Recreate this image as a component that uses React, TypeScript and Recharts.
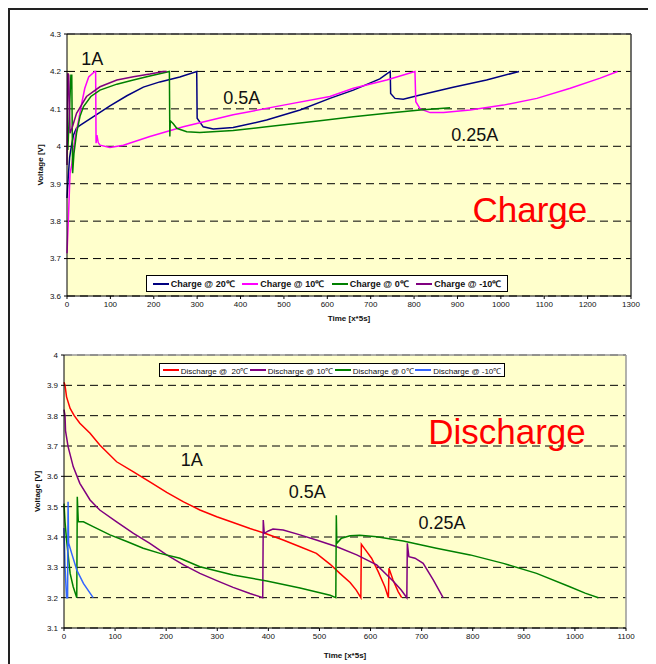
import { LineChart, Line, XAxis, YAxis, CartesianGrid, ReferenceLine, ReferenceDot, Legend } from 'recharts';

// [time (x*5s), voltage]
const charge20 = [[0, 3.862], [3, 3.92], [6, 3.97], [10, 4.0], [15, 4.03], [22, 4.049], [30, 4.056], [61, 4.079], [99, 4.108], [138, 4.135], [176, 4.158], [214, 4.172], [260, 4.185], [299, 4.2], [300, 4.075], [314, 4.052], [337, 4.046], [383, 4.05], [460, 4.07], [537, 4.097], [606, 4.128], [660, 4.15], [721, 4.18], [745, 4.2], [746, 4.141], [756, 4.128], [775, 4.126], [814, 4.137], [890, 4.158], [967, 4.177], [1042, 4.2]];
const charge10 = [[0, 3.714], [3, 3.8], [7, 3.928], [11, 3.95], [14, 3.977], [18, 4.02], [26, 4.066], [34, 4.115], [41, 4.155], [50, 4.185], [64, 4.2], [66, 4.2], [67, 4.008], [69, 4.03], [72, 4.01], [76, 4.003], [99, 3.997], [130, 4.003], [191, 4.026], [268, 4.052], [383, 4.084], [499, 4.11], [606, 4.133], [660, 4.155], [737, 4.177], [802, 4.2], [804, 4.119], [814, 4.1], [837, 4.09], [868, 4.09], [929, 4.097], [1006, 4.11], [1083, 4.128], [1160, 4.155], [1229, 4.182], [1269, 4.2]];
const charge0 = [[2, 3.99], [9, 4.19], [11, 4.19], [13, 3.928], [16, 3.98], [22, 4.035], [30, 4.08], [38, 4.106], [55, 4.133], [76, 4.15], [115, 4.166], [153, 4.177], [191, 4.188], [236, 4.2], [237, 4.026], [238, 4.068], [245, 4.06], [253, 4.048], [276, 4.039], [306, 4.037], [383, 4.042], [460, 4.052], [583, 4.068], [660, 4.079], [737, 4.088], [814, 4.097], [883, 4.103]];
const chargeM10 = [[0, 3.95], [2, 4.195], [4, 4.19], [7, 4.035], [12, 4.05], [22, 4.088], [45, 4.133], [76, 4.159], [115, 4.177], [153, 4.186], [191, 4.193], [222, 4.2], [230, 4.2]];

const discharge20 = [[0, 3.91], [2, 3.9], [5, 3.862], [12, 3.824], [20, 3.8], [31, 3.775], [51, 3.742], [70, 3.703], [103, 3.648], [136, 3.615], [168, 3.582], [201, 3.547], [234, 3.516], [266, 3.489], [299, 3.467], [331, 3.448], [364, 3.428], [397, 3.41], [429, 3.39], [462, 3.368], [494, 3.346], [521, 3.31], [540, 3.28], [560, 3.25], [572, 3.225], [581, 3.2], [582, 3.376], [589, 3.36], [602, 3.33], [615, 3.286], [628, 3.236], [635, 3.2], [636, 3.297], [644, 3.258], [654, 3.22], [661, 3.2]];
const discharge10 = [[0, 3.82], [2, 3.8], [3, 3.75], [8, 3.698], [18, 3.632], [31, 3.577], [51, 3.522], [70, 3.489], [103, 3.45], [136, 3.412], [168, 3.379], [201, 3.341], [234, 3.308], [266, 3.28], [299, 3.256], [331, 3.234], [364, 3.214], [389, 3.2], [390, 3.456], [392, 3.412], [400, 3.42], [409, 3.426], [429, 3.423], [462, 3.407], [494, 3.39], [534, 3.368], [573, 3.341], [612, 3.308], [645, 3.253], [660, 3.225], [671, 3.2], [672, 3.379], [675, 3.335], [687, 3.33], [703, 3.313], [723, 3.258], [742, 3.2]];
const discharge0 = [[0, 3.51], [2, 3.45], [5, 3.39], [12, 3.28], [18, 3.236], [25, 3.2], [26, 3.533], [28, 3.45], [38, 3.45], [57, 3.434], [90, 3.407], [123, 3.385], [155, 3.363], [188, 3.346], [227, 3.33], [266, 3.302], [331, 3.275], [397, 3.255], [462, 3.232], [521, 3.208], [532, 3.2], [533, 3.472], [534, 3.379], [543, 3.396], [560, 3.404], [579, 3.406], [612, 3.401], [664, 3.387], [729, 3.363], [795, 3.341], [860, 3.313], [925, 3.28], [990, 3.236], [1020, 3.215], [1046, 3.2]];
const dischargeM10 = [[0, 3.43], [2, 3.3], [5, 3.2], [7, 3.2], [8, 3.516], [9, 3.38], [15, 3.346], [25, 3.291], [38, 3.247], [57, 3.2]];

const chargeTicksX = [0, 100, 200, 300, 400, 500, 600, 700, 800, 900, 1000, 1100, 1200, 1300];
const chargeTicksY = [3.6, 3.7, 3.8, 3.9, 4, 4.1, 4.2, 4.3];
const dischargeTicksX = [0, 100, 200, 300, 400, 500, 600, 700, 800, 900, 1000, 1100];
const dischargeTicksY = [3.1, 3.2, 3.3, 3.4, 3.5, 3.6, 3.7, 3.8, 3.9, 4];

const chargeNames = ['Charge @ 20℃', 'Charge @ 10℃', 'Charge @ 0℃', 'Charge @ -10℃'];
const dischargeNames = ['Discharge @  20℃', 'Discharge @ 10℃', 'Discharge @ 0℃', 'Discharge @ -10℃'];

// [text, time, voltage]
const chargeNotes = [['1A', 58, 4.233], ['0.5A', 403, 4.129], ['0.25A', 940, 4.03]];
const dischargeNotes = [['1A', 250, 3.654], ['0.5A', 476, 3.548], ['0.25A', 740, 3.449]];

const FONT = '"Liberation Sans", Arial, sans-serif';
const chargeColors = ['#000080', '#FF00FF', '#008000', '#800080'];
const dischargeColors = ['#FF0000', '#800080', '#008000', '#3366FF'];

const toRows = (pts: number[][]) => pts.map(([t, v]) => ({ t, v }));

const tickStyle = { fontSize: 8, fill: '#111', fontFamily: FONT };

const LegendBox = ({ names, colors, bold, width, height, fontSize, lineW }: any) => (
  <div
    style={{
      width,
      height,
      boxSizing: 'border-box',
      border: '1px solid #000',
      background: '#fff',
      display: 'flex',
      alignItems: 'center',
      justifyContent: 'space-around',
      padding: '0 2px',
      fontFamily: FONT,
      fontSize,
      fontWeight: bold ? 'bold' : 'normal',
      color: '#111',
      whiteSpace: 'pre',
    }}
  >
    {names.map((n: string, i: number) => (
      <div key={n} style={{ display: 'flex', alignItems: 'center' }}>
        <span style={{ display: 'inline-block', width: lineW, height: 2, background: colors[i], marginRight: 2 }} />
        <span>{n}</span>
      </div>
    ))}
  </div>
);

const noteLabel = (text: string, size: number, color: string) => ({
  value: text,
  position: 'center' as const,
  fontSize: size,
  fill: color,
  fontFamily: FONT,
});

export default function App() {
  const chargeSeries = [charge20, charge10, charge0, chargeM10];
  const dischargeSeries = [discharge20, discharge10, discharge0, dischargeM10];
  return (
    <div style={{ position: 'relative', width: 648, height: 656 }}>
      <div
        style={{
          position: 'absolute',
          left: 0,
          top: 0,
          width: 648,
          height: 656,
          boxSizing: 'border-box',
          borderLeft: '2px solid #222',
          borderTop: '2px solid #222',
        }}
      />
      <div style={{ position: 'absolute', left: 0, top: 0 }}>
        <LineChart width={640} height={320} margin={{ top: 26, right: 17, bottom: 2, left: 19 }}>
          <CartesianGrid vertical={false} stroke="#000" strokeDasharray="8 5" fill="#FFFFCC" fillOpacity={1} />
          <XAxis
            dataKey="t"
            type="number"
            domain={[0, 1300]}
            ticks={chargeTicksX}
            allowDuplicatedCategory={false}
            height={30}
            tick={tickStyle}
            tickSize={3}
            tickMargin={2}
            stroke="#000"
            label={{ value: 'Time [x*5s]', position: 'insideBottom', offset: 5, fontSize: 8, fontWeight: 'bold', fill: '#111', fontFamily: FONT }}
          />
          <YAxis
            dataKey="v"
            type="number"
            domain={[3.6, 4.3]}
            ticks={chargeTicksY}
            width={40}
            tick={tickStyle}
            tickSize={3}
            tickMargin={3}
            stroke="#000"
            label={{ value: 'Voltage [V]', angle: -90, position: 'insideLeft', offset: 13, fontSize: 8, fontWeight: 'bold', fill: '#111', fontFamily: FONT, style: { textAnchor: 'middle' } }}
          />
          <ReferenceLine y={4.3} stroke="#404040" strokeWidth={1.5} />
          <ReferenceLine x={1300} stroke="#404040" strokeWidth={1.5} />
          {chargeSeries.map((s, i) => (
            <Line
              key={chargeNames[i]}
              data={toRows(s)}
              dataKey="v"
              name={chargeNames[i]}
              stroke={chargeColors[i]}
              strokeWidth={1.5}
              dot={false}
              type="linear"
              isAnimationActive={false}
            />
          ))}
          {chargeNotes.map(([text, t, v]) => (
            <ReferenceDot key={text as string} x={t as number} y={v as number} r={0} stroke="none" fill="none" label={noteLabel(text as string, 18, '#111')} />
          ))}
          <ReferenceDot x={1067} y={3.832} r={0} stroke="none" fill="none" label={noteLabel('Charge', 35, '#FF0000')} />
          <Legend
            layout="vertical"
            align="center"
            verticalAlign="middle"
            wrapperStyle={{ position: 'absolute', left: 138, top: 267, width: 362 }}
            content={() => (
              <LegendBox names={chargeNames} colors={chargeColors} bold width={362} height={17} fontSize={9} lineW={16} />
            )}
          />
        </LineChart>
      </div>
      <div style={{ position: 'absolute', left: 0, top: 322 }}>
        <LineChart width={640} height={334} margin={{ top: 25, right: 22, bottom: 2, left: 16 }}>
          <CartesianGrid vertical={false} stroke="#000" strokeDasharray="8 5" fill="#FFFFCC" fillOpacity={1} />
          <XAxis
            dataKey="t"
            type="number"
            domain={[0, 1100]}
            ticks={dischargeTicksX}
            allowDuplicatedCategory={false}
            height={34}
            tick={tickStyle}
            tickSize={3}
            tickMargin={2}
            stroke="#000"
            label={{ value: 'Time [x*5s]', position: 'insideBottom', offset: 4, fontSize: 8, fontWeight: 'bold', fill: '#111', fontFamily: FONT }}
          />
          <YAxis
            dataKey="v"
            type="number"
            domain={[3.1, 4]}
            ticks={dischargeTicksY}
            width={40}
            tick={tickStyle}
            tickSize={3}
            tickMargin={3}
            stroke="#000"
            label={{ value: 'Voltage [V]', angle: -90, position: 'insideLeft', offset: 13, fontSize: 8, fontWeight: 'bold', fill: '#111', fontFamily: FONT, style: { textAnchor: 'middle' } }}
          />
          <ReferenceLine y={4} stroke="#999" strokeWidth={1.5} />
          <ReferenceLine x={1100} stroke="#999" strokeWidth={1.5} />
          {dischargeSeries.map((s, i) => (
            <Line
              key={dischargeNames[i]}
              data={toRows(s)}
              dataKey="v"
              name={dischargeNames[i]}
              stroke={dischargeColors[i]}
              strokeWidth={1.5}
              dot={false}
              type="linear"
              isAnimationActive={false}
            />
          ))}
          {dischargeNotes.map(([text, t, v]) => (
            <ReferenceDot key={text as string} x={t as number} y={v as number} r={0} stroke="none" fill="none" label={noteLabel(text as string, 18, '#111')} />
          ))}
          <ReferenceDot x={867} y={3.746} r={0} stroke="none" fill="none" label={noteLabel('Discharge', 35, '#FF0000')} />
          <Legend
            layout="vertical"
            align="center"
            verticalAlign="middle"
            wrapperStyle={{ position: 'absolute', left: 151, top: 33, width: 346 }}
            content={() => (
              <LegendBox names={dischargeNames} colors={dischargeColors} width={346} height={14} fontSize={8} lineW={16} />
            )}
          />
        </LineChart>
      </div>
    </div>
  );
}
